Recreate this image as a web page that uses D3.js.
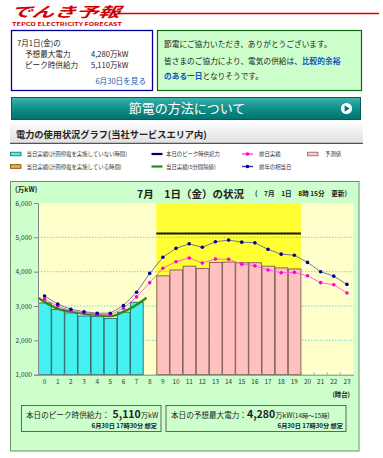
<!DOCTYPE html>
<html><head><meta charset="utf-8">
<script src="https://cdn.jsdelivr.net/npm/d3@7"></script>
<style>
html,body{margin:0;padding:0;background:#fff;}
svg{display:block;}
text{font-family:"Noto Sans CJK JP","Noto Sans",sans-serif;}
</style>
</head><body>
<svg id="c" width="383" height="458"></svg>
<script>
// ---------- data ----------
const hourLabels = ["0","1","2","3","4","5","6","7","8","9","10","11","12","13","14","15","16","17","18","19","20","21","22","23"];
const yTicks = [1000,2000,3000,4000,5000,6000];
const actualHours = ["0","1","2","3","4","5","6","7"];
const actualValues = [3090,2900,2800,2710,2700,2640,2820,3110];
const forecastHours = ["9","10","11","12","13","14","15","16","17","18","19"];
const forecastValues = [3880,4050,4160,4090,4270,4280,4260,4260,4160,4110,4080];
const prevDayValues = [3200,2995,2860,2800,2750,2740,2935,3265,3680,4100,4290,4400,4250,4370,4360,4220,4170,4050,3970,3980,3880,3680,3620,3380];
const lastYearValues = [3290,3055,2905,2835,2790,2790,3015,3400,3950,4420,4680,4810,4710,4870,4920,4860,4840,4650,4510,4480,4270,4000,3870,3630];
const fiveMinTimes = [0,0.5,1,1.5,2,2.5,3,3.5,4,4.5,5,5.5,6,6.5,7,7.5,8,8.25];
const fiveMinValues = [3240,3120,3010,2920,2870,2840,2800,2775,2755,2740,2715,2705,2745,2835,2925,3040,3170,3240];
const peakSupply = 5110;
const peakHours = ["9","19"];

const svg = d3.select("#c");

// ---------- defs ----------
const defs = svg.append("defs");
const g1 = defs.append("linearGradient").attr("id","teal").attr("x1",0).attr("y1",0).attr("x2",0).attr("y2",1);
g1.append("stop").attr("offset","0%").attr("stop-color","#3fb5ae");
g1.append("stop").attr("offset","45%").attr("stop-color","#13918b");
g1.append("stop").attr("offset","100%").attr("stop-color","#00736e");
const g2 = defs.append("linearGradient").attr("id","gray").attr("x1",0).attr("y1",0).attr("x2",0).attr("y2",1);
g2.append("stop").attr("offset","0%").attr("stop-color","#fafafa");
g2.append("stop").attr("offset","100%").attr("stop-color","#e2e2e2");

// ---------- top logo ----------
svg.append("text").attr("x",10).attr("y",17.5).attr("textLength",110).attr("lengthAdjust","spacingAndGlyphs")
  .attr("font-size",14).attr("font-weight","bold").attr("font-style","italic").attr("fill","#d40000")
  .attr("transform","skewX(-12) translate(3,0)").text("でんき予報");
svg.append("line").attr("x1",118).attr("x2",379).attr("y1",13.5).attr("y2",13.5).attr("stroke","#d40000").attr("stroke-width",1.5);
svg.append("text").attr("x",12).attr("y",25.5).attr("textLength",110).attr("lengthAdjust","spacingAndGlyphs")
  .attr("font-size",5).attr("font-weight","bold").attr("fill","#d40000").attr("font-family","DejaVu Sans")
  .text("TEPCO ELECTRICITY FORECAST");

// ---------- left info box ----------
svg.append("rect").attr("x",11.5).attr("y",30.5).attr("width",141).attr("height",60)
  .attr("fill","#fff").attr("stroke","#000099").attr("stroke-width",1.3);
const info = [["7月1日(金)の",17,46],["予想最大電力",25,56.8],["4,280万kW",91,56.8],
  ["ピーク時供給力",25,67.8],["5,110万kW",91,67.8]];
info.forEach(d=>svg.append("text").attr("x",d[1]).attr("y",d[2]).attr("font-size",7.6).attr("fill","#222").text(d[0]));
svg.append("text").attr("x",146).attr("y",83.5).attr("text-anchor","end").attr("font-size",7.6).attr("fill","#2255bb").text("6月30日を見る");

// ---------- right message box ----------
svg.append("rect").attr("x",157.5).attr("y",30.5).attr("width",204).attr("height",60)
  .attr("fill","#ccffcc").attr("stroke","#116611").attr("stroke-width",1.2);
svg.append("text").attr("x",164).attr("y",46.5).attr("font-size",7.7).attr("fill","#222").text("節電にご協力いただき、ありがとうございます。");
const l2 = svg.append("text").attr("x",164).attr("y",63.5).attr("font-size",7.7).attr("fill","#222");
l2.append("tspan").text("皆さまのご協力により、電気の供給は、");
l2.append("tspan").attr("fill","#1155bb").attr("font-weight","bold").text("比較的余裕");
const l3 = svg.append("text").attr("x",164).attr("y",79).attr("font-size",7.7).attr("fill","#222");
l3.append("tspan").attr("fill","#1155bb").attr("font-weight","bold").text("のある一日");
l3.append("tspan").text("となりそうです。");

// ---------- teal banner ----------
svg.append("rect").attr("x",11.5).attr("y",97.5).attr("width",349).attr("height",22)
  .attr("fill","url(#teal)").attr("stroke","#0a5c58").attr("stroke-width",1);
svg.append("text").attr("x",187).attr("y",113).attr("text-anchor","middle").attr("font-size",13).attr("fill","#fff").text("節電の方法について");
svg.append("circle").attr("cx",346.5).attr("cy",108.5).attr("r",5.6).attr("fill","#fff");
svg.append("path").attr("d","M344.6,105.3 L349.6,108.5 L344.6,111.7 Z").attr("fill","#0b6f6a");

// ---------- section header ----------
svg.append("rect").attr("x",10).attr("y",123.5).attr("width",353).attr("height",19.5).attr("fill","url(#gray)");
svg.append("line").attr("x1",10).attr("x2",363).attr("y1",143.3).attr("y2",143.3).attr("stroke","#555").attr("stroke-width",1.2);
svg.append("text").attr("x",16).attr("y",137.8).attr("font-size",9.2).attr("font-weight","bold").attr("fill","#222")
  .text("電力の使用状況グラフ(当社サービスエリア内)");

// ---------- legend ----------
const lg = svg.append("g").attr("font-size",5.4).attr("fill","#333");
function legRect(x,y,fill,stroke){ lg.append("rect").attr("x",x).attr("y",y-1.8).attr("width",10.5).attr("height",3.6).attr("fill",fill).attr("stroke",stroke).attr("stroke-width",0.8); }
function legLine(x,y,col,dot){ lg.append("line").attr("x1",x).attr("x2",x+11).attr("y1",y).attr("y2",y).attr("stroke",col).attr("stroke-width",dot?1.4:2.2);
  if(dot) lg.append("circle").attr("cx",x+5.5).attr("cy",y).attr("r",1.8).attr("fill",dot); }
function legText(x,y,t){ lg.append("text").attr("x",x).attr("y",y+2).text(t); }
legRect(10.5,154,"#44f0f0","#226666"); legText(26.5,154,"当日実績(計画停電を実施していない時間)");
legRect(10.5,166.5,"#ffaa33","#664400"); legText(26.5,166.5,"当日実績(計画停電を実施している時間)");
legLine(151.5,154,"#000066",null); legText(166,154,"本日のピーク時供給力");
legLine(151.5,166.5,"#119911",null); legText(166,166.5,"当日実績(5分間隔値)");
legLine(242,154,"#ff44dd","#ff00cc"); legText(259,154,"前日実績");
legLine(242,166.5,"#3333cc","#0000aa"); legText(259,166.5,"前年の相当日");
legRect(307.5,154,"#ffc4c4","#886666"); legText(325,154,"予測値");

// ---------- chart panel ----------
svg.append("rect").attr("x",10.5).attr("y",181.5).attr("width",348.5).attr("height",269.5)
  .attr("fill","#ccffcc").attr("stroke","#6b8f6b").attr("stroke-width",1);

const x = d3.scaleBand().domain(hourLabels).range([38,353.5]).padding(0);
const tx = d3.scaleLinear().domain([0,24]).range([38,353.5]);
const y = d3.scaleLinear().domain([1000,6000]).range([374.7,203]);
const bw = x.bandwidth();

svg.append("rect").attr("x",38).attr("y",y(6000)).attr("width",353.5-38).attr("height",y(1000)-y(6000)).attr("fill","#ffffcc");
svg.append("rect").attr("x",x(peakHours[0])).attr("y",y(6000)).attr("width",x(peakHours[1])+bw-x(peakHours[0]))
  .attr("height",y(1000)-y(6000)).attr("fill","#ffff33");

// gridlines
svg.append("g").selectAll("line").data(yTicks.filter(v=>v>1000&&v<6000)).join("line")
  .attr("x1",38).attr("x2",353.5).attr("y1",d=>y(d)).attr("y2",d=>y(d))
  .attr("stroke","#55cccc").attr("stroke-width",0.8).attr("stroke-dasharray","1.5,1.5");

// bars
svg.append("g").selectAll("rect").data(actualHours.map((h,i)=>({h,v:actualValues[i]}))).join("rect")
  .attr("x",d=>x(d.h)+0.5).attr("width",bw-0.5).attr("y",d=>y(d.v)).attr("height",d=>y(1000)-y(d.v))
  .attr("fill","#44f0f0").attr("stroke","#2a6464").attr("stroke-width",0.9);
svg.append("g").selectAll("rect").data(forecastHours.map((h,i)=>({h,v:forecastValues[i]}))).join("rect")
  .attr("x",d=>x(d.h)+0.5).attr("width",bw-0.5).attr("y",d=>y(d.v)).attr("height",d=>y(1000)-y(d.v))
  .attr("fill","#ffc0c0").attr("stroke","#7a5858").attr("stroke-width",0.9);

// peak supply line
svg.append("line").attr("x1",x(peakHours[0])).attr("x2",x(peakHours[1])+bw).attr("y1",y(peakSupply)).attr("y2",y(peakSupply))
  .attr("stroke","#1a1a1a").attr("stroke-width",2);

// 5-min line
svg.append("path").datum(fiveMinTimes.map((t,i)=>[t,fiveMinValues[i]]))
  .attr("d",d3.line().x(d=>tx(d[0])).y(d=>y(d[1])).curve(d3.curveMonotoneX))
  .attr("fill","none").attr("stroke","#2a8a1a").attr("stroke-width",2.4);

// series lines
function series(vals,lineCol,dotCol){
  const pts = hourLabels.map((h,i)=>[x(h)+bw/2,y(vals[i])]);
  svg.append("path").datum(pts).attr("d",d3.line()).attr("fill","none").attr("stroke",lineCol).attr("stroke-width",0.9);
  svg.append("g").selectAll("circle").data(pts).join("circle").attr("cx",d=>d[0]).attr("cy",d=>d[1]).attr("r",1.8).attr("fill",dotCol);
}
series(prevDayValues,"#ff55dd","#ff00cc");
series(lastYearValues,"#666699","#000099");

// axes
const ya = svg.append("g").attr("transform","translate(38,0)")
  .call(d3.axisLeft(y).tickValues(yTicks).tickFormat(d3.format(",")).tickSize(4).tickPadding(2));
ya.select(".domain").attr("stroke","#888");
ya.selectAll(".tick line").attr("stroke","#888");
ya.selectAll("text").attr("font-size",6.6).attr("fill","#333").attr("font-family","DejaVu Sans");

const xa = svg.append("g").attr("transform",`translate(0,${y(1000)})`)
  .call(d3.axisBottom(x).tickSize(0).tickPadding(5));
xa.select(".domain").attr("stroke","#888");
xa.selectAll("text").attr("font-size",6.4).attr("fill","#333").attr("font-family","DejaVu Sans");
svg.append("g").selectAll("line").data(hourLabels.slice(1)).join("line")
  .attr("x1",d=>x(d)).attr("x2",d=>x(d)).attr("y1",y(1000)).attr("y2",y(1000)-2.5).attr("stroke","#888").attr("stroke-width",0.7);

// panel texts
svg.append("text").attr("x",15).attr("y",192).attr("font-size",6.8).attr("font-weight","bold").attr("fill","#222").text("(万kW)");
svg.append("text").attr("x",137).attr("y",198).attr("font-size",10.5).attr("font-weight","bold").attr("fill","#222").text("7月　1日（金）の状況");
svg.append("text").attr("x",255).attr("y",196).attr("font-size",6.6).attr("font-weight","bold").attr("fill","#222").text("(　7月　1日　8時 15分　更新)");
svg.append("text").attr("x",350).attr("y",396.5).attr("text-anchor","end").attr("font-size",6.4).attr("font-weight","bold").attr("fill","#222").text("(時台)");

// bottom boxes
svg.append("rect").attr("x",21.5).attr("y",405.5).attr("width",139.5).attr("height",26).attr("fill","#ccffcc").attr("stroke","#555").attr("stroke-width",0.9);
svg.append("rect").attr("x",166).attr("y",405.5).attr("width",180).attr("height",26).attr("fill","#ccffcc").attr("stroke","#555").attr("stroke-width",0.9);
const b1 = svg.append("text").attr("x",26).attr("y",418).attr("font-size",7.6).attr("fill","#222");
b1.append("tspan").text("本日のピーク時供給力：");
b1.append("tspan").attr("dx",3).attr("font-size",10.5).attr("font-weight","bold").text("5,110");
b1.append("tspan").attr("font-size",7.2).text("万kW");
svg.append("text").attr("x",157).attr("y",428).attr("text-anchor","end").attr("font-size",6.2).attr("font-weight","bold").attr("fill","#222").text("6月30日 17時30分 想定");
const b2 = svg.append("text").attr("x",171).attr("y",418).attr("font-size",7.6).attr("fill","#222");
b2.append("tspan").text("本日の予想最大電力：");
b2.append("tspan").attr("font-size",10.5).attr("font-weight","bold").text("4,280");
b2.append("tspan").attr("font-size",7.2).text("万kW(");
b2.append("tspan").attr("font-size",6.2).text("14時～15時");
b2.append("tspan").attr("font-size",7.2).text(")");
svg.append("text").attr("x",343).attr("y",428).attr("text-anchor","end").attr("font-size",6.2).attr("font-weight","bold").attr("fill","#222").text("6月30日 17時30分 想定");
</script>
</body></html>
